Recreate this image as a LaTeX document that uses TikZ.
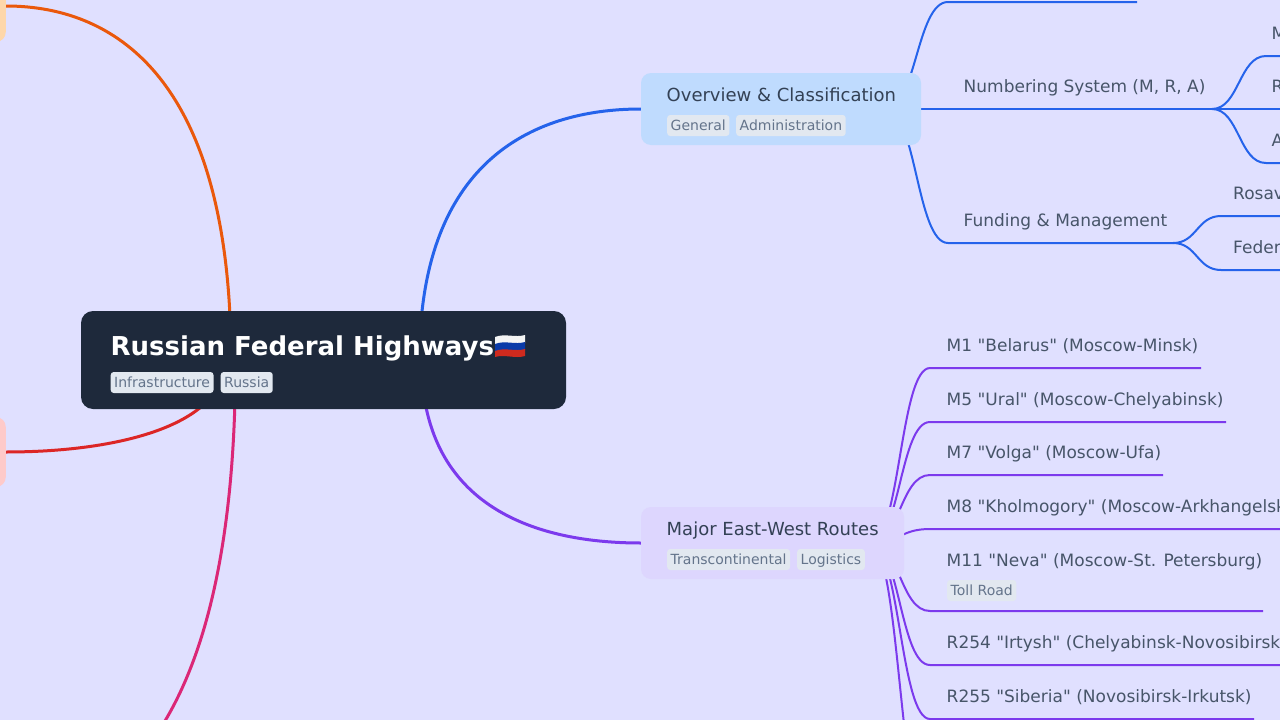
\documentclass[tikz,border=0pt]{standalone}
\usepackage{fontspec}
\setmainfont{DejaVu Sans}[Ligatures=TeXOff]
\usetikzlibrary{backgrounds}

\definecolor{canvasbg}{HTML}{E0E0FF}
\definecolor{rootfill}{HTML}{1E293B}
\definecolor{bluefill}{HTML}{BFDBFE}
\definecolor{purplefill}{HTML}{DDD6FE}
\definecolor{orangefill}{HTML}{FED7AA}
\definecolor{redfill}{HTML}{FECACA}
\definecolor{bluelink}{HTML}{2563EB}
\definecolor{purplelink}{HTML}{7C3AED}
\definecolor{orangelink}{HTML}{EA580C}
\definecolor{redlink}{HTML}{DC2626}
\definecolor{pinklink}{HTML}{DB2777}
\definecolor{tagfill}{HTML}{E2E8F0}
\definecolor{tagtext}{HTML}{64748B}
\definecolor{branchtext}{HTML}{334155}
\definecolor{leaftext}{HTML}{475569}
\definecolor{flagwhite}{HTML}{F4F4F4}
\definecolor{flagblue}{HTML}{0A3AA8}
\definecolor{flagred}{HTML}{CF2A1E}

\tikzset{
    rootbox/.style={fill=rootfill, rounded corners=12pt, inner sep=0pt, minimum width=485pt, minimum height=98pt},
    branchbox/.style={rounded corners=10pt, inner sep=0pt, minimum height=72pt},
    roottitle/.style={anchor=base west, inner sep=0pt, text=white, font=\fontsize{26}{30}\selectfont\bfseries},
    branchlabel/.style={anchor=base west, inner sep=0pt, text=branchtext, font=\fontsize{18}{22}\selectfont},
    leaflabel/.style={anchor=base west, inner sep=0pt, text=leaftext, font=\fontsize{17}{22}\selectfont},
    tagbox/.style={anchor=west, fill=tagfill, text=tagtext, rounded corners=3pt, inner xsep=3.5pt, inner ysep=0pt, minimum height=21pt, text height=13pt, text depth=3pt, font=\fontsize{14}{16}\selectfont},
    mainlink/.style={line width=3pt},
    sublink/.style={line width=2pt}
}

\begin{document}
\begin{tikzpicture}[x=1pt, y=-1pt]
    \useasboundingbox (0, 0) rectangle (1280, 720);
    \clip (0, 0) rectangle (1280, 720);

    % boxes
    \node[rootbox] (root) at (323.5, 360) {};
    \node[branchbox, fill=bluefill, minimum width=280pt] (overview) at (781, 109) {};
    \node[branchbox, fill=purplefill, minimum width=263pt] (routes) at (772.5, 543) {};
    \node[branchbox, fill=orangefill, minimum width=200pt, anchor=east] (orangenode) at (6, 6) {};
    \node[branchbox, fill=redfill, minimum width=200pt, minimum height=70pt, anchor=east] (rednode) at (6, 452) {};

    % root texts
    \node[roottitle] (title) at (110.5, 355) {Russian Federal Highways};
    \node[tagbox] (infra) at (110.5, 382.5) {Infrastructure};
    \node[tagbox] (russia) at (220.5, 382.5) {Russia};

    % flag
    \fill[flagwhite] (495, 337) .. controls (505, 333) and (515, 338) .. (525, 335) -- (525, 343) .. controls (515, 346) and (505, 341) .. (495, 345) -- cycle;
    \fill[flagblue] (495, 344) .. controls (505, 340) and (515, 345) .. (525, 342) -- (525, 350) .. controls (515, 353) and (505, 348) .. (495, 352) -- cycle;
    \fill[flagred] (495, 351) .. controls (505, 347) and (515, 352) .. (525, 349) -- (525, 356) .. controls (515, 359) and (505, 354) .. (495, 357) -- cycle;

    % branch texts
    \node[branchlabel] (overviewtext) at (666.5, 101) {Overview \& Classification};
    \node[tagbox] (general) at (667, 125.5) {General};
    \node[tagbox] (admin) at (736, 125.5) {Administration};
    \node[branchlabel] (routestext) at (666.5, 535) {Major East-West Routes};
    \node[tagbox] (transcont) at (667, 559.5) {Transcontinental};
    \node[tagbox] (logistics) at (797, 559.5) {Logistics};

    % leaves, upper branch
    \node[leaflabel] (numbering) at (963.5, 92) {Numbering System (M, R, A)};
    \node[leaflabel] (funding) at (963.5, 226) {Funding \& Management};
    \node[leaflabel] (numm) at (1271.5, 39) {M};
    \node[leaflabel] (numr) at (1271.5, 92) {R};
    \node[leaflabel] (numa) at (1271.5, 146) {A};
    \node[leaflabel] (rosav) at (1233, 199) {Rosav};
    \node[leaflabel] (feder) at (1233, 253) {Feder};

    % leaves, lower branch
    \node[leaflabel] (mone) at (946.5, 351) {M1 "Belarus" (Moscow-Minsk)};
    \node[leaflabel] (mfive) at (946.5, 405) {M5 "Ural" (Moscow-Chelyabinsk)};
    \node[leaflabel] (mseven) at (946.5, 458) {M7 "Volga" (Moscow-Ufa)};
    \node[leaflabel] (meight) at (946.5, 512) {M8 "Kholmogory" (Moscow-Arkhangelsk};
    \node[leaflabel] (meleven) at (946.5, 566) {M11 "Neva" (Moscow-St. Petersburg)};
    \node[tagbox] (toll) at (947, 590.5) {Toll Road};
    \node[leaflabel] (rirtysh) at (946.5, 648) {R254 "Irtysh" (Chelyabinsk-Novosibirsk};
    \node[leaflabel] (rsiberia) at (946.5, 702) {R255 "Siberia" (Novosibirsk-Irkutsk)};

    % free ends of the underlines
    \coordinate (topin) at (948, 2);
    \coordinate (topend) at (1137, 2);
    \coordinate (numin) at (948, 109);
    \coordinate (numfork) at (1212, 109);
    \coordinate (fundin) at (948, 243);
    \coordinate (fundfork) at (1173, 243);
    \coordinate (monein) at (930, 368);
    \coordinate (moneend) at (1201, 368);
    \coordinate (mfivein) at (930, 422);
    \coordinate (mfiveend) at (1226, 422);
    \coordinate (msevenin) at (930, 475);
    \coordinate (msevenend) at (1163, 475);
    \coordinate (meightin) at (930, 529);
    \coordinate (meightend) at (1285, 529);
    \coordinate (melevenin) at (930, 611);
    \coordinate (melevenend) at (1263, 611);
    \coordinate (rirtyshin) at (930, 665);
    \coordinate (rirtyshend) at (1285, 665);
    \coordinate (rsiberiain) at (930, 719);
    \coordinate (rsiberiaend) at (1254, 719);
    \coordinate (nextin) at (930, 830);
    \coordinate (pinkend) at (6, 820);

    \begin{pgfonlayer}{background}
        \clip (0, 0) rectangle (1280, 720);
        \fill[canvasbg] (0, 0) rectangle (1280, 720);

        % root to branches
        \draw[mainlink, bluelink] ([xshift=96pt]root.center) .. controls (419.5, 164) and (530, 109) .. (overview.west);
        \draw[mainlink, purplelink] ([xshift=98pt]root.center) .. controls (421.5, 503) and (530, 543) .. (routes.west);
        \draw[mainlink, orangelink] ([xshift=-92.5pt]root.center) .. controls (231, 85) and (120, 6) .. (orangenode.east);
        \draw[mainlink, redlink] ([xshift=-98.5pt]root.center) .. controls (225, 425) and (119, 452) .. (rednode.east);
        \draw[mainlink, pinklink] ([xshift=-88pt]root.center) .. controls (235.5, 719) and (118, 820) .. (pinkend);

        % upper branch
        \draw[sublink, bluelink] ([xshift=-36pt]overview.east) .. controls (916.5, 109) and (916.5, 2) .. (topin) -- (topend);
        \draw[sublink, bluelink] ([xshift=-36pt]overview.east) -- (numin) -- (numfork);
        \draw[sublink, bluelink] ([xshift=-36pt]overview.east) .. controls (916.5, 109) and (916.5, 243) .. (fundin) -- (fundfork);
        \draw[sublink, bluelink] (numfork) .. controls (1239, 109) and (1239, 56) .. (1266, 56) -- (1285, 56);
        \draw[sublink, bluelink] (numfork) -- (1285, 109);
        \draw[sublink, bluelink] (numfork) .. controls (1239, 109) and (1239, 163) .. (1266, 163) -- (1285, 163);
        \draw[sublink, bluelink] (fundfork) .. controls (1197, 243) and (1197, 216) .. (1221, 216) -- (1285, 216);
        \draw[sublink, bluelink] (fundfork) .. controls (1197, 243) and (1197, 270) .. (1221, 270) -- (1285, 270);

        % lower branch
        \draw[sublink, purplelink] ([xshift=-34pt]routes.east) .. controls (900, 543) and (900, 368) .. (monein) -- (moneend);
        \draw[sublink, purplelink] ([xshift=-34pt]routes.east) .. controls (900, 543) and (900, 422) .. (mfivein) -- (mfiveend);
        \draw[sublink, purplelink] ([xshift=-34pt]routes.east) .. controls (900, 543) and (900, 475) .. (msevenin) -- (msevenend);
        \draw[sublink, purplelink] ([xshift=-34pt]routes.east) .. controls (900, 543) and (900, 529) .. (meightin) -- (meightend);
        \draw[sublink, purplelink] ([xshift=-34pt]routes.east) .. controls (900, 543) and (900, 611) .. (melevenin) -- (melevenend);
        \draw[sublink, purplelink] ([xshift=-34pt]routes.east) .. controls (900, 543) and (900, 665) .. (rirtyshin) -- (rirtyshend);
        \draw[sublink, purplelink] ([xshift=-34pt]routes.east) .. controls (900, 543) and (900, 719) .. (rsiberiain) -- (rsiberiaend);
        \draw[sublink, purplelink] ([xshift=-34pt]routes.east) .. controls (900, 543) and (900, 830) .. (nextin);
    \end{pgfonlayer}
\end{tikzpicture}
\end{document}
